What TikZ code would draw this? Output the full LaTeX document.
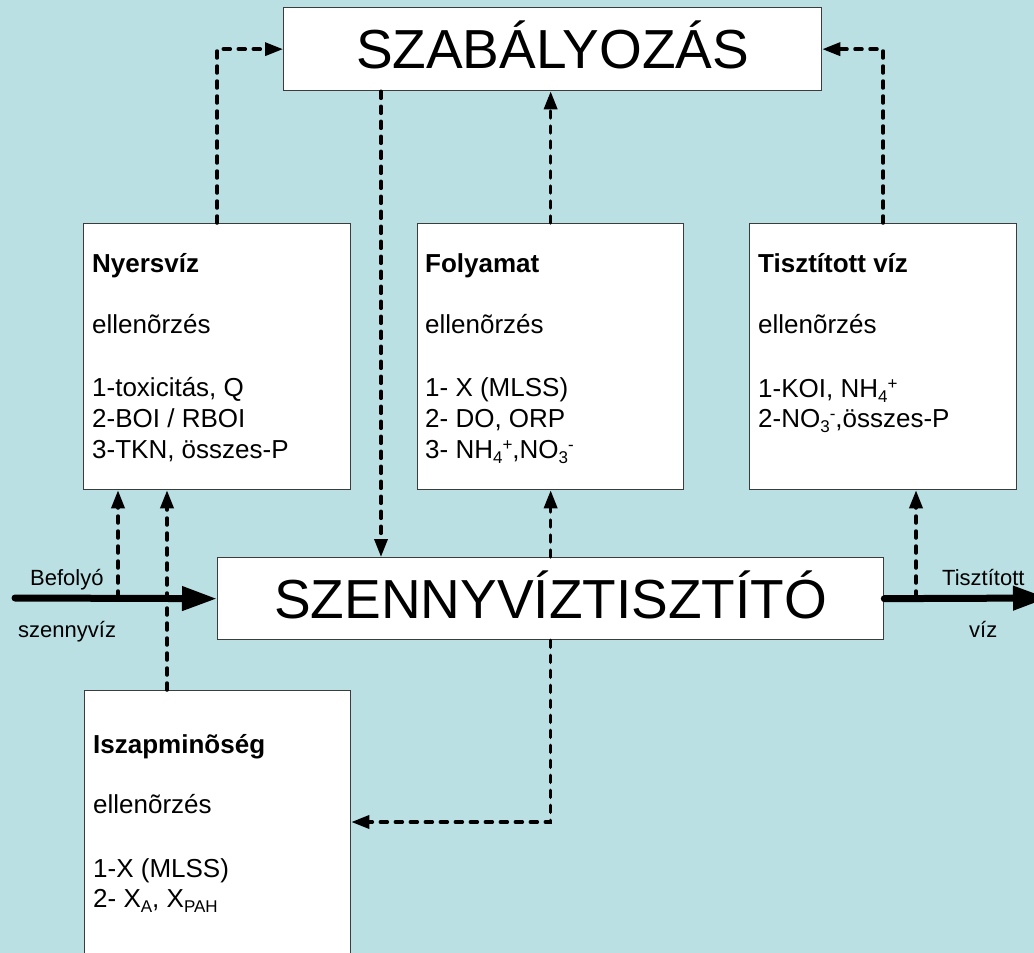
\documentclass[tikz,border=0pt]{standalone}
\usepackage{fontspec}
\setmainfont{Liberation Sans}
\usetikzlibrary{arrows.meta}
\definecolor{bgblue}{RGB}{186,224,228}
\definecolor{edgegray}{RGB}{60,60,60}
\newcommand{\sbs}[1]{\raisebox{-0.22em}{\fontsize{17}{17}\selectfont #1}}
\newcommand{\sps}[1]{\raisebox{0.27em}{\fontsize{17}{17}\selectfont #1}}
\begin{document}
\begin{tikzpicture}[x=1pt,y=-1pt,
  box/.style={draw=edgegray, line width=1.3pt, fill=white, rectangle, inner sep=0pt, anchor=north west},
  title/.style={font=\fontsize{55}{55}\selectfont, text height=39.4pt, text depth=0pt},
  txt/.style={font=\fontsize{26}{31}\selectfont, inner sep=0pt, anchor=base west},
  lbl/.style={font=\fontsize{22}{26}\selectfont, inner sep=0pt, anchor=base west},
  ctrl/.style={line width=3.5pt, dash pattern=on 7pt off 8pt, line cap=round, -{Triangle[length=18pt,width=13pt]}},
  flow/.style={line width=7pt, line cap=round, -{Triangle[length=35pt,width=23pt]}}]
\fill[bgblue] (0,0) rectangle (1034,953);
\useasboundingbox (0,0) rectangle (1034,953);

% boxes
\node[box, title, minimum width=538, minimum height=83] (szab) at (283,7) {SZABÁLYOZÁS};
\node[box, title, minimum width=666, minimum height=82] (szenny) at (217,557) {SZENNYVÍZTISZTÍTÓ};
\node[box, minimum width=267, minimum height=266] (nyers) at (83,223) {};
\node[box, minimum width=266, minimum height=266] (foly) at (417,223) {};
\node[box, minimum width=267, minimum height=266] (tiszt) at (749,223) {};
\node[box, minimum width=266, minimum height=320] (iszap) at (84,690) {};

% box texts
\node[txt] (ny1) at (92,272) {\textbf{Nyersvíz}};
\node[txt] (ny2) at (92,333) {ellenõrzés};
\node[txt] (ny3) at (92,396) {1-toxicitás, Q};
\node[txt] (ny4) at (92,427) {2-BOI / RBOI};
\node[txt] (ny5) at (92,458) {3-TKN, összes-P};

\node[txt] (fo1) at (425,272) {\textbf{Folyamat}};
\node[txt] (fo2) at (425,333) {ellenõrzés};
\node[txt] (fo3) at (425,396) {1- X (MLSS)};
\node[txt] (fo4) at (425,427) {2- DO, ORP};
\node[txt] (fo5) at (425,458) {3- NH\sbs{4}\sps{+},NO\sbs{3}\sps{-}};

\node[txt] (ti1) at (758,272) {\textbf{Tisztított víz}};
\node[txt] (ti2) at (758,333) {ellenõrzés};
\node[txt] (ti3) at (758,397) {1-KOI, NH\sbs{4}\sps{+}};
\node[txt] (ti4) at (758,427) {2-NO\sbs{3}\sps{-},összes-P};

\node[txt] (is1) at (93,753) {\textbf{Iszapminõség}};
\node[txt] (is2) at (93,813) {ellenõrzés};
\node[txt] (is3) at (93,877) {1-X (MLSS)};
\node[txt] (is4) at (93,907) {2- X\sbs{A}, X\sbs{PAH}};

% flow labels
\node[lbl] (bef) at (30,585) {Befolyó};
\node[lbl] (szv) at (18,637) {szennyvíz};
\node[lbl] (tsz) at (942,585) {Tisztított};
\node[lbl] (viz) at (969,637) {víz};

% helper coordinates
\coordinate (inp) at (15,598);
\coordinate (outp) at (1048,598);
\coordinate (b1) at (118,598);
\coordinate (t1) at (916,598);
\coordinate (k) at (167,0);
\coordinate (r) at (381,0);
\coordinate (sl) at (0,822);

% control connectors
\draw[ctrl] (nyers.north) |- (szab.west);
\draw[ctrl] (tiszt.north) |- (szab.east);
\draw[ctrl] (szab.south -| r) -- (szenny.north -| r);
\draw[ctrl] (foly.north) -- (szab.south -| foly.north);
\draw[ctrl] (b1) -- (nyers.south -| b1);
\draw[ctrl] (iszap.north -| k) -- (nyers.south -| k);
\draw[ctrl] (szenny.north -| foly.south) -- (foly.south);
\draw[ctrl] (t1) -- (tiszt.south -| t1);
\draw[ctrl] (szenny.south -| foly.south) |- (iszap.east |- sl);

% main flow
\draw[flow] (inp) -- (szenny.west);
\draw[flow] (szenny.east) -- (outp);
\end{tikzpicture}
\end{document}
